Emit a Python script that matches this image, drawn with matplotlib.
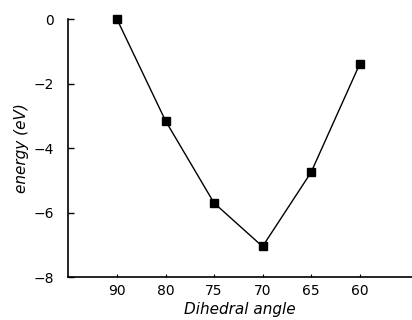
import matplotlib
matplotlib.use("Agg")
import matplotlib.pyplot as plt
import numpy as np

# dihedral angle categories (plotted left to right, decreasing)
angles = ["90", "80", "75", "70", "65", "60"]
energy = [0.0, -3.15, -5.7, -7.05, -4.75, -1.4]
y_ticks = [0, -2, -4, -6, -8]
y_tick_labels = ["0", "\u22122", "\u22124", "\u22126", "\u22128"]

plt.rcParams["font.family"] = ["DejaVu Sans"]

fig = plt.figure(figsize=(4.12, 3.2), dpi=100)
ax = fig.add_axes([0.165, 0.134, 0.835, 0.806])

x = np.arange(len(angles))
ax.plot(x, energy, color="black", lw=1.0, marker="s", markersize=6,
        markerfacecolor="black", markeredgecolor="black", clip_on=False)

ax.set_xlim(-1.01, 6.08)
ax.set_ylim(-8, 0)
ax.set_xticks(x)
ax.set_xticklabels(angles)
ax.set_yticks(y_ticks)
ax.set_yticklabels(y_tick_labels)

ax.spines["top"].set_visible(False)
ax.spines["right"].set_visible(False)
ax.spines["left"].set_linewidth(1.2)
ax.spines["bottom"].set_linewidth(1.2)
ax.tick_params(axis="y", direction="in", length=4, width=1, labelsize=10, pad=10)
ax.tick_params(axis="x", direction="in", length=2, width=0.8, labelsize=10, pad=5)

ax.set_xlabel("Dihedral angle", fontsize=11, style="italic", labelpad=3)
ax.set_ylabel("energy (eV)", fontsize=11, style="italic", labelpad=3)

fig.savefig("out.png", dpi=100)
